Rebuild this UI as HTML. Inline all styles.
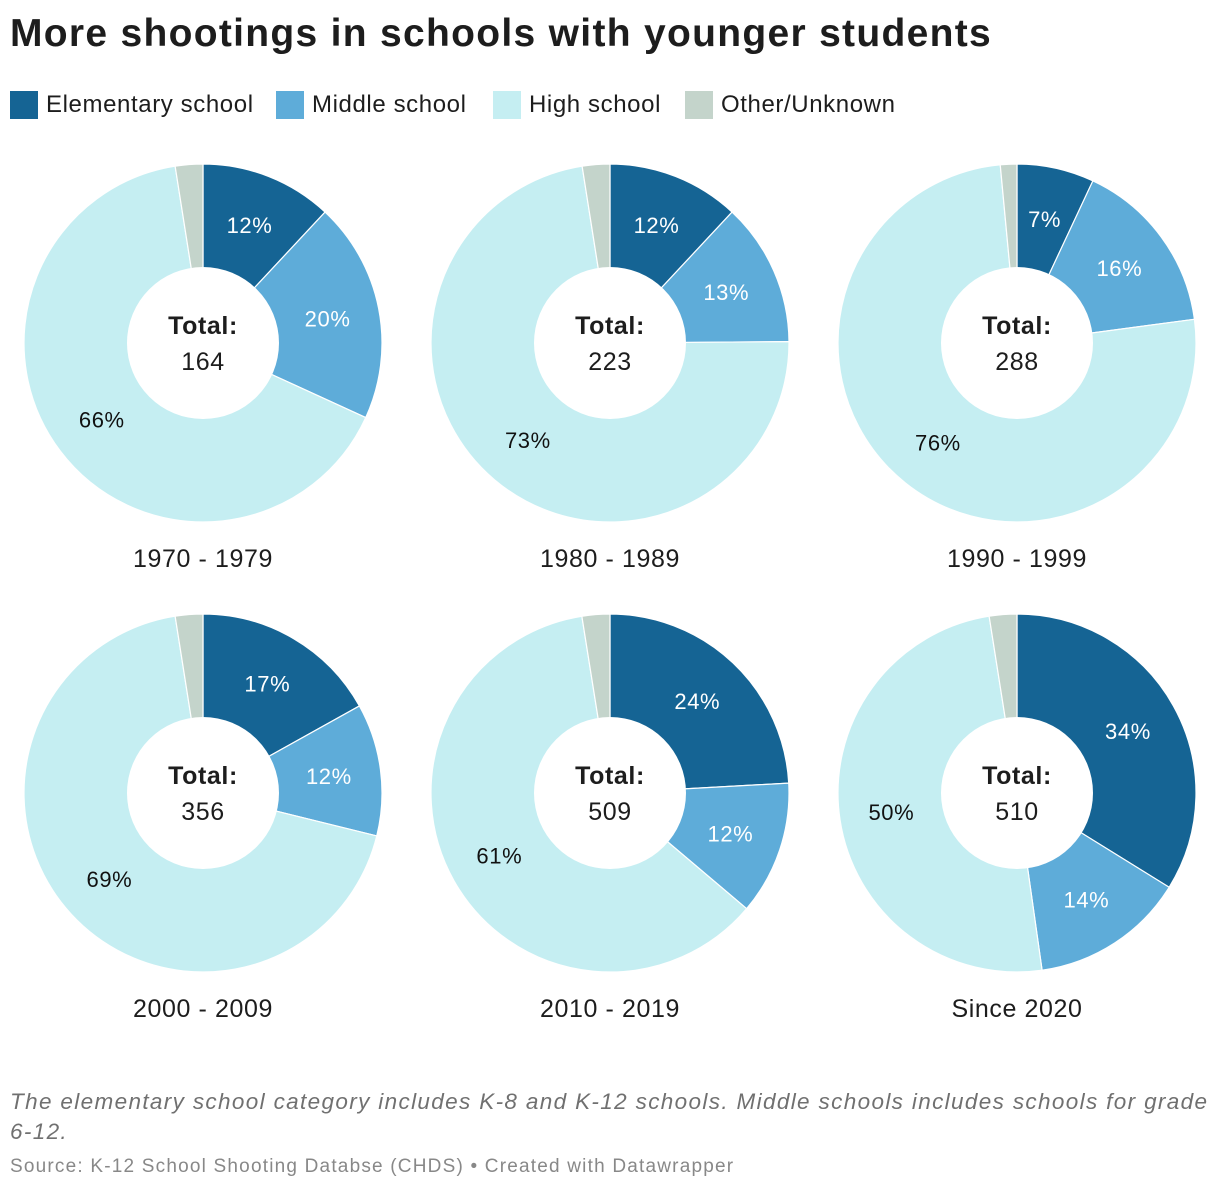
<!DOCTYPE html>
<html><head><meta charset="utf-8"><style>
body{margin:0;background:#fff;font-family:"Liberation Sans",sans-serif;color:#1d1d1d}
#wrap{position:relative;width:1220px;height:1192px}
h1{position:absolute;left:10px;top:12px;margin:0;font-size:39px;font-weight:bold;letter-spacing:1.3px;white-space:nowrap}
.leg{position:absolute;top:91px;font-size:24px;display:flex;align-items:center;letter-spacing:0.6px;white-space:nowrap}
.sw{width:28px;height:28px;margin-right:8px;display:inline-block}
.note{position:absolute;left:10px;top:1087px;font-size:22.5px;font-style:italic;color:#707070;line-height:30px;letter-spacing:1.35px;white-space:nowrap}
.src{position:absolute;left:10px;top:1156px;font-size:19px;color:#888;letter-spacing:1.2px;white-space:nowrap}
svg text{letter-spacing:0.6px}
</style></head><body><div id="wrap">
<h1>More shootings in schools with younger students</h1>
<div class="leg" style="left:10px"><span class="sw" style="background:#156494"></span>Elementary school</div>
<div class="leg" style="left:276px"><span class="sw" style="background:#5eacd9"></span>Middle school</div>
<div class="leg" style="left:493px"><span class="sw" style="background:#c5eef2"></span>High school</div>
<div class="leg" style="left:685px"><span class="sw" style="background:#c4d4cb"></span>Other/Unknown</div>
<svg id="svg" width="1220" height="1192" style="position:absolute;left:0;top:0"></svg>
<div class="note">The elementary school category includes K-8 and K-12 schools. Middle schools includes schools for grade<br>6-12.</div>
<div class="src">Source: K-12 School Shooting Databse (CHDS) • Created with Datawrapper</div>
</div>
<script>
const periods=["1970 - 1979","1980 - 1989","1990 - 1999","2000 - 2009","2010 - 2019","Since 2020"];
const totals=[164,223,288,356,509,510];
const elementary=[12,12,7,17,24,34];
const middle=[20,13,16,12,12,14];
const high=[66,73,76,69,61,50];
const other=[2.5,2.5,1.5,2.5,2.5,2.5];
const colors=["#156494","#5eacd9","#c5eef2","#c4d4cb"];
const txtCol=["#fff","#fff","#111",null];
const NS="http://www.w3.org/2000/svg";
const svg=document.getElementById("svg");
const R=179,r0=76;
function mk(t,a){const e=document.createElementNS(NS,t);for(const k in a)e.setAttribute(k,a[k]);svg.appendChild(e);return e;}
function pt(cx,cy,rad,f){const a=f*2*Math.PI;return [cx+rad*Math.sin(a),cy-rad*Math.cos(a)];}
periods.forEach((p,i)=>{
  const cx=203+407*(i%3), cy=343+450*Math.floor(i/3);
  const vals=[elementary[i],middle[i],high[i],other[i]];
  const sum=vals.reduce((a,b)=>a+b,0);
  let acc=0;
  vals.forEach((v,j)=>{
    const f0=acc/sum,f1=(acc+v)/sum;acc+=v;
    const [x0,y0]=pt(cx,cy,R,f0),[x1,y1]=pt(cx,cy,R,f1);
    const large=(f1-f0)>0.5?1:0;
    const path=mk("path",{d:`M${cx},${cy}L${x0},${y0}A${R},${R} 0 ${large} 1 ${x1},${y1}Z`,fill:colors[j],stroke:"#fff","stroke-width":1.2});
    
    
    if(txtCol[j]){
      const [lx,ly]=pt(cx,cy,127,(f0+f1)/2);
      const t=mk("text",{x:lx,y:ly+8,"text-anchor":"middle","font-size":22,fill:txtCol[j]});
      t.textContent=vals[j]+"%";
      
      
    }
  });
  const hole=mk("circle",{cx:cx,cy:cy,r:r0,fill:"#fff"});
  
  
  const t1=mk("text",{x:cx,y:cy-9,"text-anchor":"middle","font-size":25,"font-weight":"bold",fill:"#1d1d1d"});
  t1.textContent="Total:";
  
  
  const t2=mk("text",{x:cx,y:cy+27,"text-anchor":"middle","font-size":25,fill:"#1d1d1d"});
  t2.textContent=totals[i];
  
  
  const t3=mk("text",{x:cx,y:cy+224,"text-anchor":"middle","font-size":25,fill:"#1d1d1d"});
  t3.textContent=p;
  
  
});
</script></body></html>
